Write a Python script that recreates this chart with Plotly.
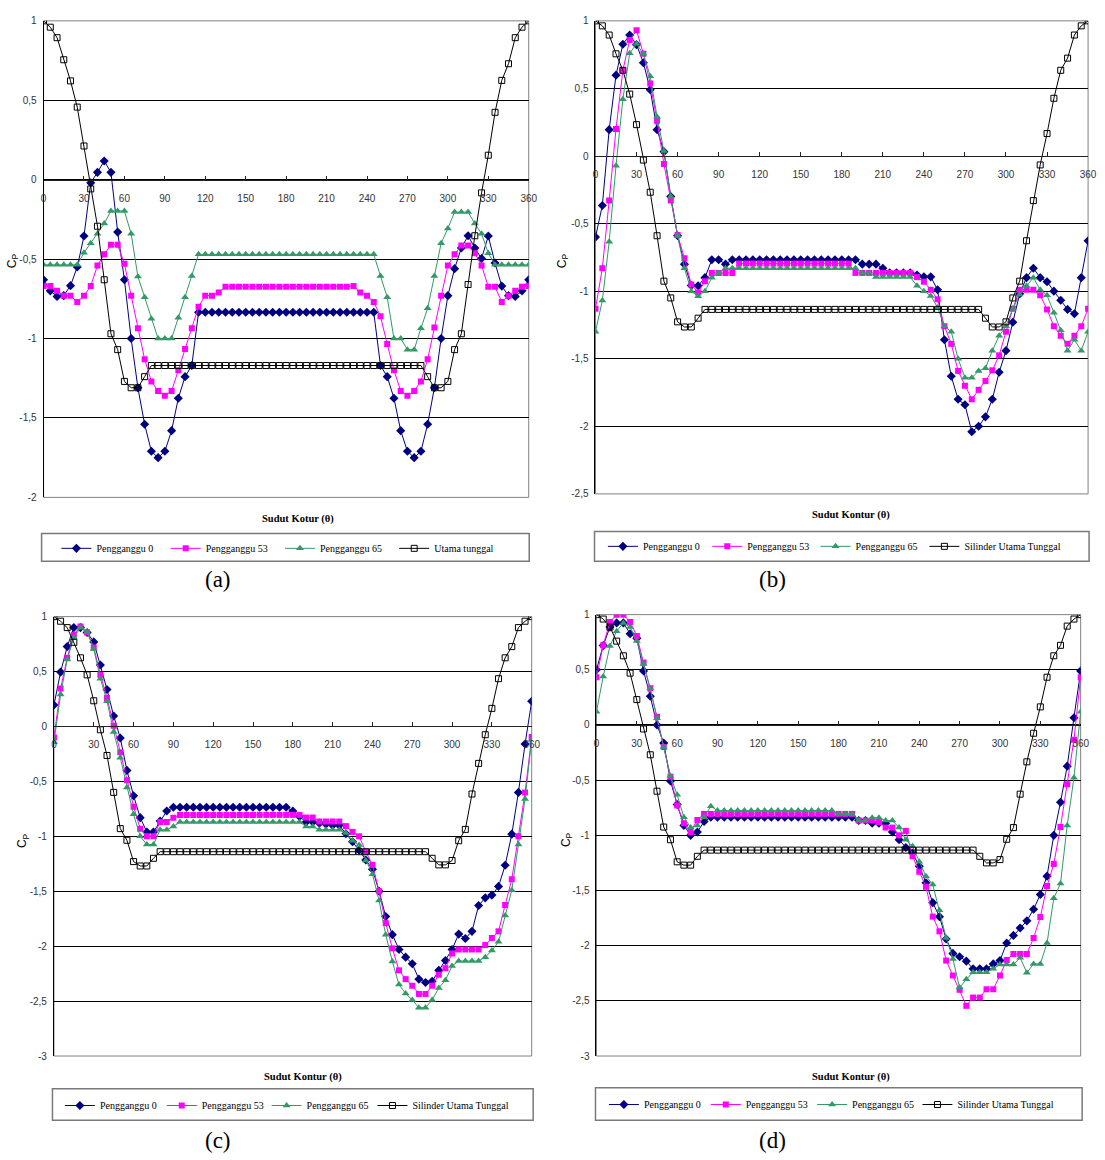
import plotly.graph_objects as go

W, H = 1105, 1160

# ---------------- DATA ----------------
THETA = list(range(0, 365, 5))          # contour angle, degrees (73 points)
X_TICKS = [0, 30, 60, 90, 120, 150, 180, 210, 240, 270, 300, 330, 360]

NAMES_A = ["Pengganggu 0", "Pengganggu 53", "Pengganggu 65", "Utama tunggal"]
NAMES = ["Pengganggu 0", "Pengganggu 53", "Pengganggu 65", "Silinder Utama Tunggal"]

# ---- panel (a) ----
A_P0 = [-0.63, -0.70, -0.735, -0.73, -0.667, -0.55, -0.355, -0.02, 0.046, 0.118, 0.046, -0.33,
        -0.63, -1.0, -1.31, -1.54, -1.71, -1.75, -1.71, -1.58, -1.376, -1.24, -1.17, -0.835,
        -0.835, -0.835, -0.835, -0.835, -0.835, -0.835, -0.835, -0.835, -0.835, -0.835, -0.835, -0.835,
        -0.835, -0.835, -0.835, -0.835, -0.835, -0.835, -0.835, -0.835, -0.835, -0.835, -0.835, -0.835,
        -0.835, -0.835, -1.17, -1.24, -1.376, -1.58, -1.71, -1.75, -1.71, -1.54, -1.31, -1.0,
        -0.73, -0.56, -0.43, -0.353, -0.43, -0.496, -0.355, -0.525, -0.67, -0.73, -0.735, -0.70,
        -0.63]
A_P53 = [-0.67, -0.67, -0.70, -0.73, -0.73, -0.77, -0.73, -0.67, -0.54, -0.47, -0.41, -0.41,
         -0.53, -0.73, -0.936, -1.13, -1.27, -1.33, -1.36, -1.33, -1.20, -1.066, -0.936, -0.80,
         -0.73, -0.73, -0.71, -0.674, -0.674, -0.674, -0.674, -0.674, -0.674, -0.674, -0.674, -0.674,
         -0.674, -0.674, -0.674, -0.674, -0.674, -0.674, -0.674, -0.674, -0.674, -0.674, -0.67, -0.71,
         -0.73, -0.77, -0.86, -1.035, -1.20, -1.33, -1.36, -1.33, -1.27, -1.13, -0.93, -0.73,
         -0.54, -0.47, -0.415, -0.415, -0.463, -0.54, -0.674, -0.674, -0.77, -0.73, -0.70, -0.674,
         -0.67]
A_P65 = [-0.536, -0.536, -0.536, -0.536, -0.536, -0.536, -0.46, -0.40, -0.34, -0.276, -0.197, -0.197,
         -0.197, -0.34, -0.61, -0.74, -0.876, -1.0, -1.0, -1.0, -0.87, -0.74, -0.607, -0.47,
         -0.47, -0.47, -0.47, -0.47, -0.47, -0.47, -0.47, -0.47, -0.47, -0.47, -0.47, -0.47,
         -0.47, -0.47, -0.47, -0.47, -0.47, -0.47, -0.47, -0.47, -0.47, -0.47, -0.47, -0.47,
         -0.47, -0.47, -0.607, -0.74, -1.0, -1.0, -1.07, -1.07, -0.936, -0.81, -0.607, -0.40,
         -0.307, -0.204, -0.204, -0.204, -0.276, -0.34, -0.463, -0.536, -0.536, -0.536, -0.536, -0.536,
         -0.536]
A_UT = [1.0, 0.96, 0.894, 0.755, 0.622, 0.457, 0.212, -0.058, -0.293, -0.63, -0.97, -1.07,
        -1.27, -1.31, -1.31, -1.24, -1.17, -1.17, -1.17, -1.17, -1.17, -1.17, -1.17, -1.17,
        -1.17, -1.17, -1.17, -1.17, -1.17, -1.17, -1.17, -1.17, -1.17, -1.17, -1.17, -1.17,
        -1.17, -1.17, -1.17, -1.17, -1.17, -1.17, -1.17, -1.17, -1.17, -1.17, -1.17, -1.17,
        -1.17, -1.17, -1.17, -1.17, -1.17, -1.17, -1.17, -1.17, -1.17, -1.24, -1.31, -1.31,
        -1.27, -1.07, -0.97, -0.66, -0.353, -0.083, 0.154, 0.424, 0.625, 0.73, 0.894, 0.96,
        1.0]

# ---- panel (b) ----
B_P0 = [-0.60, -0.366, 0.195, 0.598, 0.827, 0.895, 0.824, 0.69, 0.49, 0.195, 0.032, -0.30,
        -0.59, -0.80, -0.958, -0.96, -0.90, -0.768, -0.768, -0.80, -0.768, -0.768, -0.768, -0.768,
        -0.768, -0.768, -0.768, -0.768, -0.768, -0.768, -0.768, -0.768, -0.768, -0.768, -0.768, -0.768,
        -0.768, -0.768, -0.768, -0.80, -0.80, -0.80, -0.83, -0.865, -0.865, -0.865, -0.865, -0.88,
        -0.894, -0.894, -0.99, -1.36, -1.63, -1.80, -1.84, -2.04, -2.0, -1.93, -1.80, -1.60,
        -1.44, -1.23, -1.02, -0.90, -0.83, -0.90, -0.93, -1.0, -1.067, -1.135, -1.167, -0.90,
        -0.627]
B_P53 = [-1.13, -0.83, -0.33, 0.20, 0.634, 0.859, 0.93, 0.756, 0.537, 0.26, -0.06, -0.33,
         -0.585, -0.756, -0.95, -1.01, -0.926, -0.865, -0.865, -0.865, -0.865, -0.796, -0.796, -0.796,
         -0.796, -0.796, -0.796, -0.796, -0.796, -0.796, -0.796, -0.796, -0.796, -0.796, -0.796, -0.796,
         -0.796, -0.796, -0.865, -0.865, -0.865, -0.865, -0.865, -0.865, -0.865, -0.865, -0.865, -0.896,
         -0.93, -0.99, -1.06, -1.26, -1.39, -1.59, -1.70, -1.80, -1.73, -1.665, -1.586, -1.475,
         -1.30, -1.13, -0.99, -0.99, -0.99, -1.03, -1.135, -1.26, -1.33, -1.39, -1.33, -1.26,
         -1.13]
B_P65 = [-1.30, -1.07, -0.634, -0.073, 0.42, 0.76, 0.83, 0.756, 0.59, 0.29, 0.037, -0.30,
         -0.59, -0.83, -1.0, -1.037, -1.0, -0.90, -0.865, -0.83, -0.83, -0.83, -0.83, -0.83,
         -0.83, -0.83, -0.83, -0.83, -0.83, -0.83, -0.83, -0.83, -0.83, -0.83, -0.83, -0.83,
         -0.83, -0.83, -0.83, -0.865, -0.865, -0.896, -0.896, -0.896, -0.896, -0.896, -0.896, -0.96,
         -1.0, -1.035, -1.12, -1.26, -1.30, -1.50, -1.64, -1.64, -1.59, -1.57, -1.44, -1.33,
         -1.26, -1.13, -1.025, -0.96, -0.90, -0.99, -1.03, -1.16, -1.29, -1.44, -1.36, -1.44,
         -1.30]
B_UT = [1.0, 0.963, 0.895, 0.756, 0.634, 0.458, 0.232, -0.03, -0.268, -0.59, -0.926, -1.05,
        -1.227, -1.265, -1.265, -1.20, -1.135, -1.135, -1.135, -1.135, -1.135, -1.135, -1.135, -1.135,
        -1.135, -1.135, -1.135, -1.135, -1.135, -1.135, -1.135, -1.135, -1.135, -1.135, -1.135, -1.135,
        -1.135, -1.135, -1.135, -1.135, -1.135, -1.135, -1.135, -1.135, -1.135, -1.135, -1.135, -1.135,
        -1.135, -1.135, -1.135, -1.135, -1.135, -1.135, -1.135, -1.135, -1.135, -1.20, -1.265, -1.265,
        -1.227, -1.05, -0.926, -0.627, -0.33, -0.066, 0.166, 0.427, 0.634, 0.724, 0.895, 0.963,
        1.0]

# ---- panel (c) ----
C_P0 = [0.195, 0.495, 0.727, 0.90, 0.90, 0.856, 0.77, 0.56, 0.336, 0.096, -0.105, -0.40,
        -0.63, -0.83, -0.96, -0.96, -0.86, -0.77, -0.735, -0.735, -0.735, -0.735, -0.735, -0.735,
        -0.735, -0.735, -0.735, -0.735, -0.735, -0.735, -0.735, -0.735, -0.735, -0.735, -0.735, -0.735,
        -0.77, -0.82, -0.87, -0.87, -0.88, -0.89, -0.90, -0.90, -0.976, -1.05, -1.126, -1.216,
        -1.30, -1.5, -1.73, -1.895, -2.03, -2.10, -2.16, -2.30, -2.33, -2.32, -2.22, -2.13,
        -2.03, -1.89, -1.93, -1.865, -1.63, -1.56, -1.535, -1.456, -1.264, -0.98, -0.60, -0.16,
        0.23]
C_P53 = [-0.10, 0.345, 0.625, 0.835, 0.91, 0.856, 0.72, 0.47, 0.26, 0.006, -0.234, -0.49,
         -0.73, -0.93, -1.0, -1.0, -0.87, -0.87, -0.83, -0.805, -0.805, -0.805, -0.805, -0.805,
         -0.805, -0.805, -0.805, -0.805, -0.805, -0.805, -0.805, -0.805, -0.805, -0.805, -0.805, -0.805,
         -0.805, -0.805, -0.829, -0.829, -0.865, -0.865, -0.865, -0.865, -0.907, -0.96, -1.0, -1.14,
         -1.26, -1.5, -1.79, -2.02, -2.22, -2.30, -2.36, -2.435, -2.435, -2.36, -2.26, -2.20,
         -2.066, -2.03, -2.03, -2.03, -2.03, -1.99, -1.925, -1.865, -1.625, -1.39, -1.0, -0.60,
         -0.096]
C_P65 = [-0.144, 0.29, 0.61, 0.81, 0.90, 0.86, 0.705, 0.435, 0.23, -0.05, -0.285, -0.555,
         -0.80, -1.0, -1.075, -1.075, -0.94, -0.94, -0.91, -0.87, -0.87, -0.87, -0.87, -0.87,
         -0.87, -0.87, -0.87, -0.87, -0.87, -0.87, -0.87, -0.87, -0.87, -0.87, -0.87, -0.87,
         -0.87, -0.87, -0.91, -0.91, -0.94, -0.94, -0.94, -0.94, -0.97, -1.04, -1.08, -1.22,
         -1.345, -1.585, -1.895, -2.14, -2.35, -2.43, -2.49, -2.56, -2.56, -2.49, -2.38, -2.31,
         -2.18, -2.135, -2.135, -2.135, -2.135, -2.10, -2.04, -1.96, -1.72, -1.49, -1.075, -0.66,
         -0.12]
C_UT = [1.0, 0.958, 0.90, 0.766, 0.625, 0.47, 0.234, -0.03, -0.264, -0.60, -0.93, -1.036,
        -1.23, -1.27, -1.27, -1.20, -1.14, -1.14, -1.14, -1.14, -1.14, -1.14, -1.14, -1.14,
        -1.14, -1.14, -1.14, -1.14, -1.14, -1.14, -1.14, -1.14, -1.14, -1.14, -1.14, -1.14,
        -1.14, -1.14, -1.14, -1.14, -1.14, -1.14, -1.14, -1.14, -1.14, -1.14, -1.14, -1.14,
        -1.14, -1.14, -1.14, -1.14, -1.14, -1.14, -1.14, -1.14, -1.14, -1.20, -1.26, -1.26,
        -1.22, -1.04, -0.937, -0.615, -0.336, -0.075, 0.165, 0.435, 0.625, 0.727, 0.90, 0.958,
        1.0]

# ---- panel (d) ----
D_P0 = [0.50, 0.72, 0.887, 0.925, 0.925, 0.827, 0.785, 0.49, 0.26, 0.0, -0.164, -0.507,
        -0.72, -0.91, -1.0, -0.97, -0.875, -0.836, -0.836, -0.836, -0.836, -0.836, -0.836, -0.836,
        -0.836, -0.836, -0.836, -0.836, -0.836, -0.836, -0.836, -0.836, -0.836, -0.836, -0.836, -0.836,
        -0.836, -0.836, -0.836, -0.866, -0.866, -0.89, -0.89, -0.89, -0.97, -1.04, -1.11, -1.16,
        -1.28, -1.43, -1.61, -1.737, -1.94, -2.07, -2.10, -2.14, -2.21, -2.21, -2.21, -2.165,
        -2.135, -1.976, -1.907, -1.84, -1.775, -1.67, -1.536, -1.37, -1.0, -0.70, -0.373, 0.066,
        0.49]
D_P53 = [0.433, 0.722, 0.934, 1.0, 1.0, 0.934, 0.806, 0.567, 0.334, 0.075, -0.20, -0.47,
         -0.73, -0.89, -0.97, -0.86, -0.806, -0.806, -0.806, -0.806, -0.806, -0.806, -0.806, -0.806,
         -0.806, -0.806, -0.806, -0.806, -0.806, -0.806, -0.806, -0.806, -0.806, -0.806, -0.806, -0.806,
         -0.806, -0.806, -0.806, -0.866, -0.866, -0.866, -0.88, -0.93, -0.93, -1.0, -0.96, -1.19,
         -1.33, -1.467, -1.737, -1.87, -2.135, -2.27, -2.40, -2.545, -2.47, -2.47, -2.395, -2.395,
         -2.27, -2.13, -2.075, -2.075, -2.075, -1.93, -1.74, -1.46, -1.26, -0.925, -0.537, -0.134,
         0.433]
D_P65 = [0.12, 0.44, 0.716, 0.85, 0.925, 0.887, 0.76, 0.552, 0.334, 0.06, -0.20, -0.463,
         -0.633, -0.836, -0.93, -0.91, -0.836, -0.737, -0.776, -0.776, -0.776, -0.776, -0.776, -0.776,
         -0.776, -0.776, -0.776, -0.776, -0.776, -0.776, -0.776, -0.776, -0.776, -0.776, -0.776, -0.776,
         -0.806, -0.806, -0.806, -0.866, -0.866, -0.84, -0.84, -0.866, -0.866, -0.93, -1.04, -1.10,
         -1.24, -1.37, -1.446, -1.68, -1.93, -2.12, -2.38, -2.305, -2.24, -2.24, -2.24, -2.21,
         -2.17, -2.17, -2.17, -2.11, -2.245, -2.165, -2.165, -1.976, -1.57, -1.437, -0.91, -0.478,
         0.12]
D_UT = [1.0, 0.96, 0.887, 0.76, 0.627, 0.47, 0.23, -0.036, -0.27, -0.60, -0.925, -1.04,
        -1.24, -1.27, -1.27, -1.19, -1.134, -1.134, -1.134, -1.134, -1.134, -1.134, -1.134, -1.134,
        -1.134, -1.134, -1.134, -1.134, -1.134, -1.134, -1.134, -1.134, -1.134, -1.134, -1.134, -1.134,
        -1.134, -1.134, -1.134, -1.134, -1.134, -1.134, -1.134, -1.134, -1.134, -1.134, -1.134, -1.134,
        -1.134, -1.134, -1.134, -1.134, -1.134, -1.134, -1.134, -1.134, -1.134, -1.19, -1.25, -1.25,
        -1.22, -1.036, -0.93, -0.627, -0.334, -0.075, 0.164, 0.433, 0.627, 0.722, 0.896, 0.96,
        1.0]

Y_TICKS_A = [-2, -1.5, -1, -0.5, 0, 0.5, 1]
Y_TICKS_B = [-2.5, -2, -1.5, -1, -0.5, 0, 0.5, 1]
Y_TICKS_CD = [-3, -2.5, -2, -1.5, -1, -0.5, 0, 0.5, 1]

# ---------------- STYLE / LAYOUT ----------------
STYLES = [
    dict(color="#000080", symbol="diamond", size=7),
    dict(color="#FF00FF", symbol="square", size=6),
    dict(color="#339966", symbol="triangle-up", size=7),
    dict(color="#000000", symbol="square-open", size=6),
]

PANELS = [
    dict(label="(a)", series=[A_P0, A_P53, A_P65, A_UT], names=NAMES_A, yticks=Y_TICKS_A,
         left=41, right=531.5, top=15, bottom=496.5, xtitle="Sudut Kotur (θ)", xt=(298, 518),
         cp=(10, 257), lab=(217, 579), box=(39, 532, 533, 561), legy=548,
         legx=[96.5, 207, 322.5, 438]),
    dict(label="(b)", series=[B_P0, B_P53, B_P65, B_UT], names=NAMES, yticks=Y_TICKS_B,
         left=599, right=1097, top=15, bottom=493, xtitle="Sudut Kontur (θ)", xt=(857, 514),
         cp=(566, 257), lab=(778, 579), box=(598, 1098, 531, 561), legy=546,
         legx=[649, 754.5, 864, 974]),
    dict(label="(c)", series=[C_P0, C_P53, C_P65, C_UT], names=NAMES, yticks=Y_TICKS_CD,
         left=51.5, right=534.5, top=617, bottom=1061, xtitle="Sudut Kontur (θ)", xt=(303, 1082),
         cp=(21, 843), lab=(217, 1146), box=(50, 536, 1094, 1126), legy=1111,
         legx=[100, 203, 309, 416]),
    dict(label="(d)", series=[D_P0, D_P53, D_P65, D_UT], names=NAMES, yticks=Y_TICKS_CD,
         left=600, right=1089.5, top=615, bottom=1061, xtitle="Sudut Kontur (θ)", xt=(857, 1082),
         cp=(570, 842), lab=(778, 1146), box=(599, 1091, 1093, 1126), legy=1110,
         legx=[650, 753, 860.5, 967]),
]

TICK_FONT = dict(family="Liberation Sans Narrow, Arial Narrow, Liberation Sans, Arial", size=10, color="#333333")
SERIF = "Liberation Serif, Times New Roman, serif"
TEXT_OFFSET = 42.5   # legend text starts this far right of the legend's x


def fx(px):
    return px / W


def fy(py):
    return 1 - py / H


def fmt(v):
    return ("%g" % v).replace(".", ",")


for s in PANELS:
    for arr in s["series"]:
        assert len(arr) == len(THETA), len(arr)

fig = go.Figure()
shapes, annotations = [], []
layout = dict(width=W, height=H, margin=dict(l=0, r=0, t=0, b=0),
              paper_bgcolor="white", plot_bgcolor="white", showlegend=True)

leg_no = 0
for i, p in enumerate(PANELS, start=1):
    xid = "x" if i == 1 else f"x{i}"
    yid = "y" if i == 1 else f"y{i}"
    ymin, ymax = min(p["yticks"]), max(p["yticks"])

    for k, (name, vals, st) in enumerate(zip(p["names"], p["series"], STYLES)):
        leg_no += 1
        lid = "legend" if leg_no == 1 else f"legend{leg_no}"
        fig.add_trace(go.Scatter(
            x=THETA, y=vals, name=name, mode="lines+markers",
            xaxis=xid, yaxis=yid, legend=lid,
            line=dict(color=st["color"], width=1),
            marker=dict(symbol=st["symbol"], size=st["size"], color=st["color"],
                        line=dict(width=1 if st["symbol"].endswith("open") else 0, color=st["color"])),
        ))
        layout[lid] = dict(orientation="h", x=fx(p["legx"][k] - TEXT_OFFSET), y=fy(p["legy"]),
                           xanchor="left", yanchor="middle",
                           bgcolor="rgba(0,0,0,0)", borderwidth=0, itemwidth=30,
                           font=dict(family=SERIF, size=10, color="#000000"))

    ydom = [fy(p["bottom"]), fy(p["top"])]
    # paper position of Cp = 0 (the x axis crosses there)
    zero_pos = ydom[0] + (0 - ymin) / (ymax - ymin) * (ydom[1] - ydom[0])

    layout["xaxis" if i == 1 else f"xaxis{i}"] = dict(
        domain=[fx(p["left"]), fx(p["right"])], range=[0, 360], anchor="free", position=zero_pos,
        tickvals=X_TICKS, ticktext=[str(t) for t in X_TICKS], ticks="inside", ticklen=4,
        tickcolor="#222222", showline=True, linecolor="#222222", linewidth=1,
        showgrid=False, zeroline=False, tickfont=TICK_FONT, fixedrange=True,
        ticklabelstandoff=9,
    )
    layout["yaxis" if i == 1 else f"yaxis{i}"] = dict(
        domain=ydom, range=[ymin, ymax], anchor=xid,
        tickvals=p["yticks"], ticktext=[fmt(v) for v in p["yticks"]], ticks="",
        showgrid=True, gridcolor="#000000", gridwidth=1, zeroline=False,
        showline=True, linecolor="#000000", linewidth=1, tickfont=TICK_FONT, fixedrange=True,
        ticklabelstandoff=4,
    )

    # plot area frame (grey)
    shapes.append(dict(type="rect", xref=f"{xid} domain", yref=f"{yid} domain",
                       x0=0, x1=1, y0=0, y1=1, line=dict(color="#808080", width=1), layer="below"))
    # legend frame
    bx0, bx1, by0, by1 = p["box"]
    shapes.append(dict(type="rect", xref="paper", yref="paper",
                       x0=fx(bx0), x1=fx(bx1), y0=fy(by1), y1=fy(by0),
                       line=dict(color="#7a7a7a", width=1.5)))

    annotations.append(dict(xref="paper", yref="paper", x=fx(p["cp"][0]), y=fy(p["cp"][1]),
                            text="C<sub>P</sub>", showarrow=False, textangle=-90,
                            font=dict(family="Liberation Sans, Arial", size=12, color="#000000"),
                            xanchor="center", yanchor="middle"))
    annotations.append(dict(xref="paper", yref="paper", x=fx(p["xt"][0]), y=fy(p["xt"][1]),
                            text=f"<b>{p['xtitle']}</b>", showarrow=False,
                            font=dict(family=SERIF, size=10.5, color="#000000"),
                            xanchor="center", yanchor="middle"))
    annotations.append(dict(xref="paper", yref="paper", x=fx(p["lab"][0]), y=fy(p["lab"][1]),
                            text=p["label"], showarrow=False,
                            font=dict(family=SERIF, size=23, color="#000000"),
                            xanchor="center", yanchor="middle"))

layout["shapes"] = shapes
layout["annotations"] = annotations
fig.update_layout(**layout)
fig.write_html("out.html", config={"displayModeBar": False},
               post_script="document.body.style.margin='0px';document.body.style.padding='0px';"
                           "document.body.style.overflow='hidden';")
